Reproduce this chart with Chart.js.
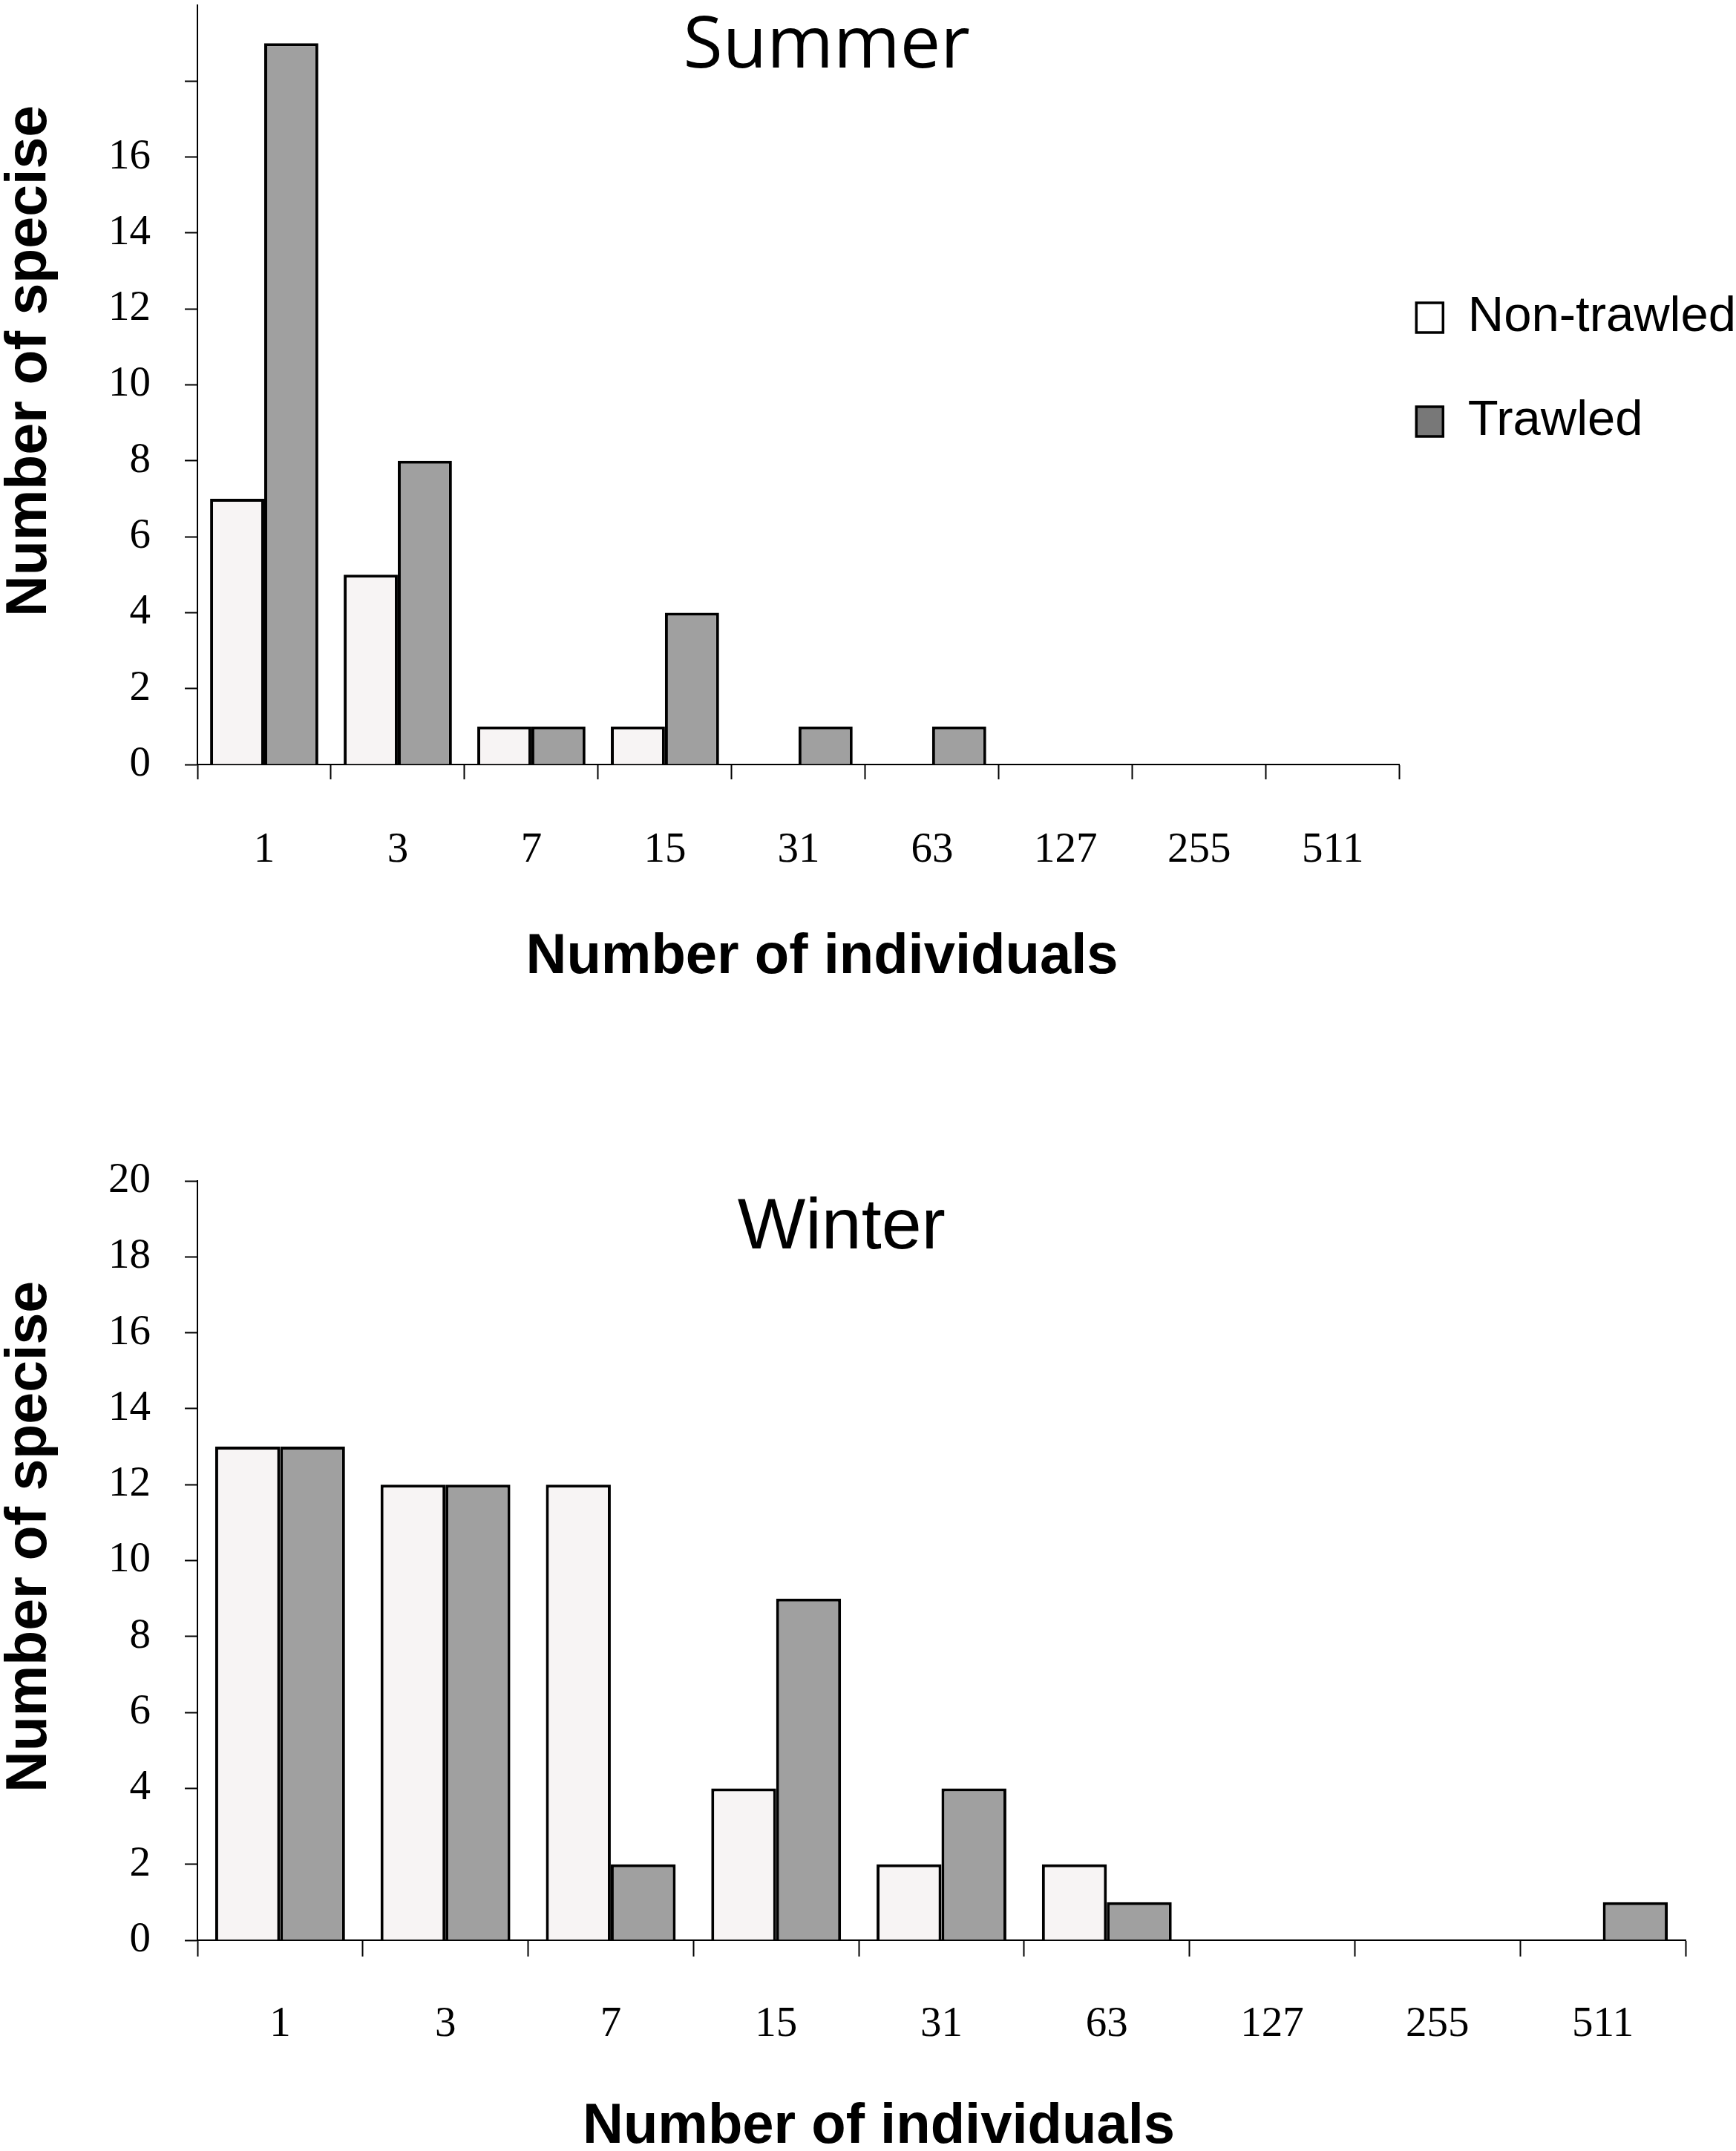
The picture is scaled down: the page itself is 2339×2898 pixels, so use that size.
<!DOCTYPE html>
<html>
<head>
<meta charset="utf-8">
<script src="https://cdn.jsdelivr.net/npm/chart.js@4.4.0/dist/chart.umd.min.js"></script>
<style>
html,body{margin:0;padding:0;background:#ffffff;overflow:hidden;width:2339px;height:2898px;position:relative}
canvas{position:absolute;left:0}
#summer{top:0}
#winter{top:1500px}
</style>
</head>
<body>
<canvas id="summer" width="2339" height="1328"></canvas>
<canvas id="winter" width="2339" height="1404"></canvas>
<script>
// ---- data ----
const categories = ['1', '3', '7', '15', '31', '63', '127', '255', '511'];
const seriesNames = ['Non-trawled', 'Trawled'];
const summerNonTrawled = [7, 5, 1, 1, 0, 0, 0, 0, 0];
const summerTrawled = [19, 8, 1, 4, 1, 1, 0, 0, 0];
const winterNonTrawled = [13, 12, 12, 4, 2, 2, 0, 0, 0];
const winterTrawled = [13, 12, 2, 9, 4, 1, 0, 0, 1];
const summerYTickLabels = ['0', '2', '4', '6', '8', '10', '12', '14', '16'];
const winterYTickLabels = ['0', '2', '4', '6', '8', '10', '12', '14', '16', '18', '20'];
const summerTitle = 'Summer';
const winterTitle = 'Winter';
const xTitle = 'Number of individuals';
const yTitle = 'Number of specise';

// ---- styles ----
const BLACK = '#000000';
const NT_FILL = '#f7f4f4';
const T_FILL = '#a0a0a0';
const LEG_FILLS = ['#ffffff', '#787878'];
const SERIF = "'Liberation Serif', 'Times New Roman', serif";
const SANS = "'Liberation Sans', Arial, sans-serif";

Chart.defaults.color = BLACK;
Chart.defaults.font.family = SANS;

function datasets(nt, t) {
  return [
    {label: seriesNames[0], data: nt, backgroundColor: NT_FILL, borderColor: BLACK, borderWidth: 4, borderSkipped: 'start'},
    {label: seriesNames[1], data: t, backgroundColor: T_FILL, borderColor: BLACK, borderWidth: 4, borderSkipped: 'start'}
  ];
}

function xScale(opts) {
  return {
    type: 'category',
    grid: {display: true, drawOnChartArea: false, drawTicks: true, tickLength: opts.tickLength, tickColor: BLACK, tickWidth: 2, offset: true},
    border: {display: true, color: BLACK, width: 2},
    ticks: {padding: opts.tickPad, autoSkip: false, maxRotation: 0, minRotation: 0, color: BLACK,
            font: {family: SERIF, size: 57, lineHeight: 1.2}},
    title: {display: true, text: opts.title, color: BLACK,
            font: {family: SANS, size: 76, weight: 'bold', lineHeight: 1}, padding: {top: 0, bottom: 0}},
    afterFit: s => { s.height = opts.height; s.paddingLeft = 0; s.paddingRight = 0; }
  };
}

function yScale(opts) {
  return {
    type: 'linear', min: 0, max: 20,
    grid: {display: true, drawOnChartArea: false, drawTicks: true, tickLength: 17, tickWidth: 2,
           tickColor: c => (c.tick && opts.hideTick.includes(c.tick.value)) ? 'rgba(0,0,0,0)' : BLACK},
    border: {display: true, color: BLACK, width: 2},
    ticks: {stepSize: 2, padding: 46, color: BLACK, font: {family: SERIF, size: 57, lineHeight: 1.2},
            callback: v => opts.labels.includes(String(v)) ? String(v) : ''},
    title: {display: true, text: opts.title, color: BLACK,
            font: {family: SANS, size: 77, weight: 'bold', lineHeight: 1}, padding: {top: 2, bottom: 0}},
    afterFit: s => { s.width = 266; s.paddingTop = 0; s.paddingBottom = 0; }
  };
}

// ---- Summer ----
new Chart(document.getElementById('summer'), {
  type: 'bar',
  data: {labels: categories, datasets: datasets(summerNonTrawled, summerTrawled)},
  options: {
    responsive: false, animation: false, devicePixelRatio: 1,
    layout: {padding: {top: 7, left: 0, right: -10, bottom: 0}},
    datasets: {bar: {categoryPercentage: 0.81, barPercentage: 1}},
    plugins: {
      tooltip: {enabled: false},
      title: {display: true, text: '   ' + summerTitle, fullSize: false, color: BLACK,
              font: {family: "'Open Sans', 'Noto Sans', sans-serif", size: 97, weight: 'normal', lineHeight: 1},
              padding: {top: 8, bottom: -105}},
      legend: {
        display: true, position: 'right', align: 'start',
        title: {display: true, text: ' ', font: {size: 10, lineHeight: 1}, padding: {top: 355, bottom: 0}},
        labels: {
          boxWidth: 36, boxHeight: 40, padding: 22.5, color: BLACK,
          font: {family: SANS, size: 67, lineHeight: '117.5px'},
          generateLabels: chart => chart.data.datasets.map((d, i) => ({
            text: [d.label], fillStyle: LEG_FILLS[i], strokeStyle: BLACK, lineWidth: 3.5,
            hidden: false, datasetIndex: i, fontColor: BLACK
          }))
        }
      }
    },
    scales: {
      x: xScale({tickLength: 20, tickPad: 62, height: 298, title: '   ' + xTitle}),
      y: yScale({labels: summerYTickLabels, hideTick: [20], title: '   ' + yTitle})
    }
  }
});

// ---- Winter ----
new Chart(document.getElementById('winter'), {
  type: 'bar',
  data: {labels: categories, datasets: datasets(winterNonTrawled, winterTrawled)},
  options: {
    responsive: false, animation: false, devicePixelRatio: 1,
    layout: {padding: {top: 91, left: 0, right: 68, bottom: 0}},
    datasets: {bar: {categoryPercentage: 0.785, barPercentage: 1}},
    plugins: {
      tooltip: {enabled: false},
      legend: {display: false},
      title: {display: true, text: winterTitle + '          ', fullSize: false, color: BLACK,
              font: {family: SANS, size: 97, weight: 'normal', lineHeight: 1},
              padding: {top: 16, bottom: -113}},
      },
    scales: {
      x: xScale({tickLength: 22, tickPad: 58, height: 290, title: xTitle + '        '}),
      y: yScale({labels: winterYTickLabels, hideTick: [], title: '   ' + yTitle})
    }
  }
});
</script>
</body>
</html>
